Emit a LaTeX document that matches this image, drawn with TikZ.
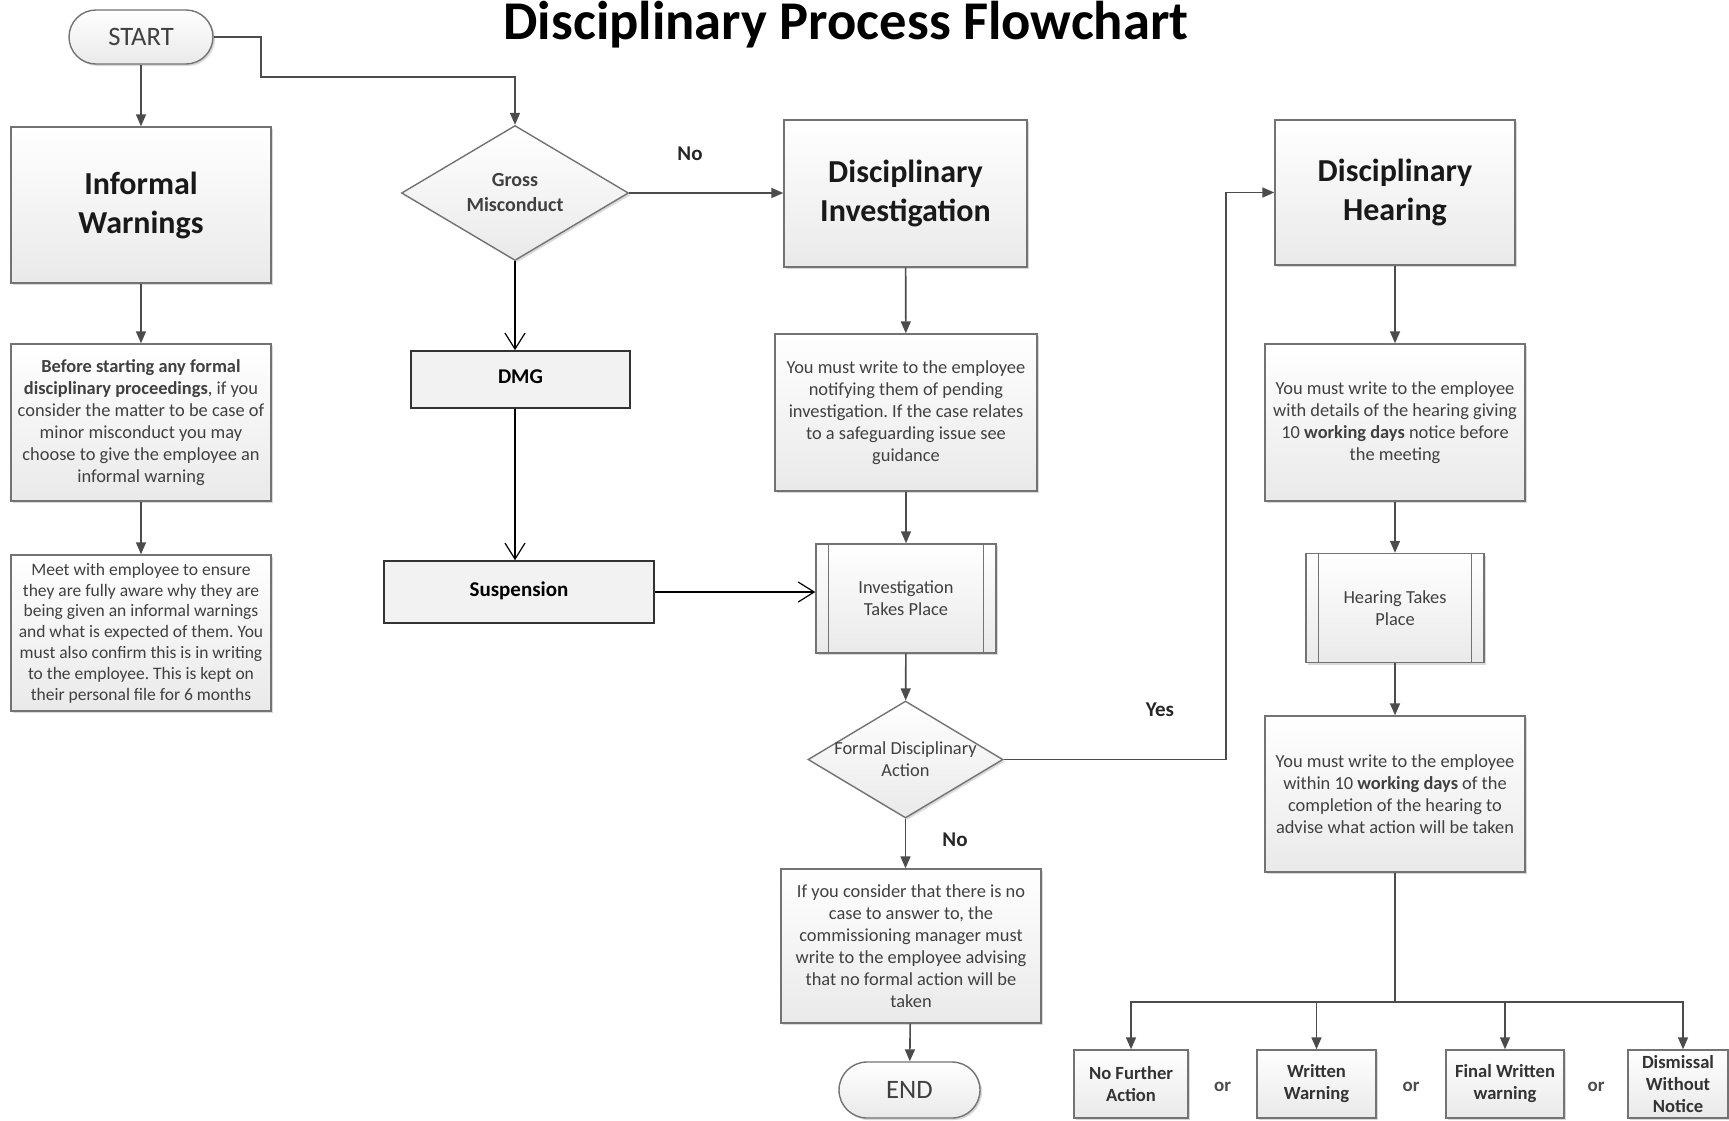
\documentclass[tikz,border=0pt]{standalone}
\usepackage{fontspec}
\setmainfont{Carlito}
\usetikzlibrary{calc,positioning,shapes.geometric,arrows.meta,shadows}

\begin{document}
\frenchspacing
\begin{tikzpicture}[x=0.5pt,y=-0.5pt,
  box/.style={draw=gray!90!black,line width=0.7pt,top color=white,bottom color=gray!17,
    drop shadow={shadow xshift=1pt,shadow yshift=-1pt,opacity=0.3},
    align=center,inner sep=2pt,text=black!75,font=\fontsize{9.2}{11}\selectfont},
  head/.style={box,font=\bfseries\fontsize{16}{19.5}\selectfont,text=black!90},
  term/.style={box,rounded corners=13.5pt,minimum width=72pt,minimum height=27pt,font=\fontsize{13.3}{15}\selectfont},
  ask/.style={box,shape=diamond,aspect=1.67,inner xsep=-30pt,inner ysep=-8pt},
  sub/.style={box,minimum width=90pt,minimum height=54.5pt},
  plain/.style={draw=black!80,line width=0.8pt,fill=gray!10,font=\bfseries\fontsize{10.5}{12}\selectfont,text=black},
  pick/.style={box,minimum width=57pt,minimum height=34pt,inner sep=1pt,font=\bfseries\fontsize{9.3}{11}\selectfont,text=black!80},
  lbl/.style={font=\bfseries\fontsize{10.5}{12}\selectfont,text=black!85},
  flow/.style={draw=gray!60!black,line width=0.8pt,-{Triangle[length=6pt,width=5pt]}},
  open/.style={draw=black,line width=0.6pt,-{Straight Barb[length=8pt,width=10pt,line width=0.6pt]}}]
\useasboundingbox (0,0) rectangle (1729,1120);

\node[font=\bfseries\fontsize{27.3}{30}\selectfont,anchor=base] (title) at (846,39) {Disciplinary Process Flowchart};

% left column
\node[term] (start) at (141,37) {START};
\node[head,minimum width=130pt,minimum height=78pt] (warn) at (141,205) {Informal\\Warnings};
\node[box,minimum width=130pt,minimum height=78.5pt] (before) at (141,422.5) {\textbf{Before starting any formal}\\\textbf{disciplinary proceedings}, if you\\consider the matter to be case of\\minor misconduct you may\\choose to give the employee an\\informal warning};
\node[box,minimum width=130pt,minimum height=78pt,font=\fontsize{8.75}{10.4}\selectfont] (meet) at (141,633) {Meet with employee to ensure\\they are fully aware why they are\\being given an informal warnings\\and what is expected of them. You\\must also confirm this is in writing\\to the employee. This is kept on\\their personal file for 6 months};

% gross misconduct column
\node[ask,minimum width=113.5pt,minimum height=67.5pt,font=\bfseries\fontsize{10}{12.5}\selectfont] (gross) at (515,193) {Gross\\Misconduct};
\node[plain,minimum width=109.5pt,minimum height=28.5pt,text depth=3pt] (dmg) at (520.5,379.5) {DMG};
\node[plain,minimum width=135pt,minimum height=31pt,text depth=3pt] (susp) at (519,592) {Suspension};

% investigation column
\node[head,minimum width=121.5pt,minimum height=73.5pt] (dinv) at (905.5,193.5) {Disciplinary\\Investigation};
\node[box,minimum width=131pt,minimum height=78.5pt] (notify) at (906,412.5) {You must write to the employee\\notifying them of pending\\investigation. If the case relates\\to a safeguarding issue see\\guidance};
\node[sub] (itp) at (906,598.5) {Investigation\\Takes Place};
\draw[gray!90!black,line width=0.7pt] ([xshift=6.5pt]itp.north west) -- ([xshift=6.5pt]itp.south west)
  ([xshift=-6.5pt]itp.north east) -- ([xshift=-6.5pt]itp.south east);
\node[ask,minimum width=97.5pt,minimum height=58.5pt] (formal) at (905.5,759.5) {Formal Disciplinary\\Action};
\node[box,minimum width=130pt,minimum height=77pt] (nocase) at (911,946) {If you consider that there is no\\case to answer to, the\\commissioning manager must\\write to the employee advising\\that no formal action will be\\taken};
\node[term,minimum width=70.5pt,minimum height=28pt,rounded corners=14pt] (end) at (909.5,1090) {END};

% hearing column
\node[head,minimum width=120pt,minimum height=72.5pt] (dhear) at (1395,192.5) {Disciplinary\\Hearing};
\node[box,minimum width=130pt,minimum height=78.5pt] (details) at (1395,422.5) {You must write to the employee\\with details of the hearing giving\\10 \textbf{working days} notice before\\the meeting};
\node[sub,minimum width=89pt] (htp) at (1395,608) {Hearing Takes\\Place};
\draw[gray!90!black,line width=0.7pt] ([xshift=6.5pt]htp.north west) -- ([xshift=6.5pt]htp.south west)
  ([xshift=-6.5pt]htp.north east) -- ([xshift=-6.5pt]htp.south east);
\node[box,minimum width=130pt,minimum height=78pt] (within) at (1395,794) {You must write to the employee\\within 10 \textbf{working days} of the\\completion of the hearing to\\advise what action will be taken};

% outcomes
\node[pick] (nfa) at (1131,1084) {No Further\\Action};
\node[pick,minimum width=59.5pt] (ww) at (1316.5,1084) {Written\\Warning};
\node[pick,minimum width=59pt] (fww) at (1505,1084) {Final Written\\warning};
\node[pick,minimum width=50pt] (dwn) at (1678,1084) {Dismissal\\Without\\Notice};
\node[lbl,font=\bfseries\fontsize{9.5}{11}\selectfont,text=black!70] (or1) at ($(nfa.east)!.5!(ww.west)+(0,3)$) {or};
\node[lbl,font=\bfseries\fontsize{9.5}{11}\selectfont,text=black!70] (or2) at ($(ww.east)!.5!(fww.west)+(0,3)$) {or};
\node[lbl,font=\bfseries\fontsize{9.5}{11}\selectfont,text=black!70] (or3) at ($(fww.east)!.5!(dwn.west)+(0,3)$) {or};

% labels
\node[lbl] (no1) at (690,154) {No};
\node[lbl] (yes) at (1160,710) {Yes};
\node[lbl] (no2) at (955,840) {No};

% connectors
\draw[flow] (start) -- (warn);
\draw[flow] (warn) -- (before);
\draw[flow] (before) -- (meet);
\draw[flow] (start.east) -| (261,77) -| (gross.north);
\draw[flow] (gross.east) -- (gross.east -| dinv.west);
\draw[open] (gross.south) -- (gross.south |- dmg.north);
\draw[open] (dmg.south -| gross.south) -- (gross.south |- susp.north);
\draw[open] (susp.east) -- (susp.east -| itp.west);
\draw[flow] (dinv) -- (notify);
\draw[flow] (notify) -- (itp);
\draw[flow] (itp) -- (formal);
\coordinate (yesbend) at (1226,759.5);
\draw[flow] (formal.east) -- (yesbend) |- (dhear.west);
\draw[flow] (formal.south) -- (formal.south |- nocase.north);
\draw[flow] (nocase) -- (end);
\draw[flow] (dhear) -- (details);
\draw[flow] (details) -- (htp);
\draw[flow] (htp) -- (within);
\coordinate (fork) at (1395,1002);
\draw[draw=gray!60!black,line width=0.8pt] (within.south) -- (fork);
\foreach \o in {nfa,ww,fww}
  \draw[flow] (fork) -| (\o.north);
\draw[flow] (fork) -| ([xshift=2.5pt]dwn.north);
\end{tikzpicture}
\end{document}
